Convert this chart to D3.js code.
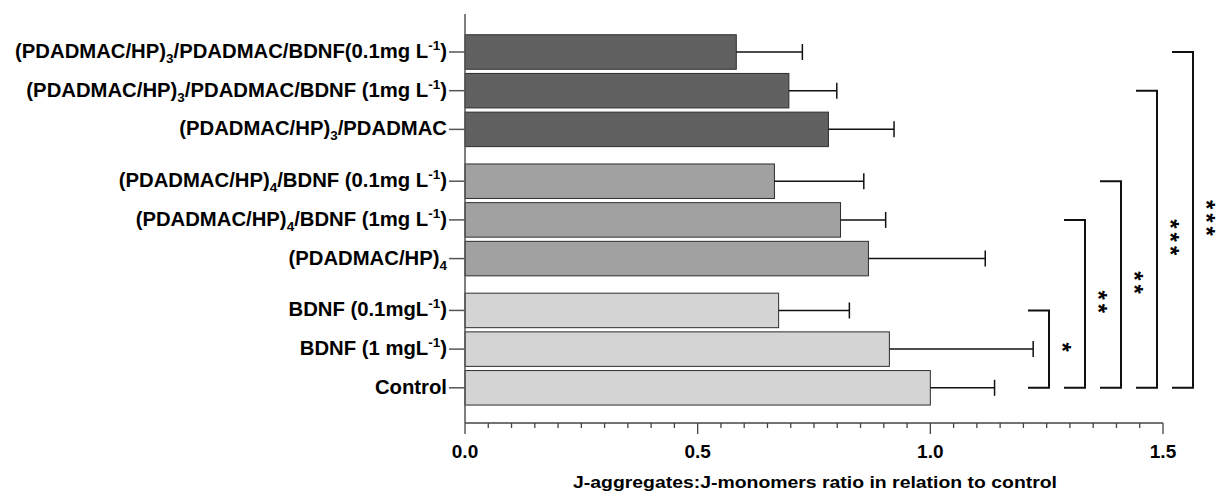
<!DOCTYPE html>
<html>
<head>
<meta charset="utf-8">
<script src="https://cdn.jsdelivr.net/npm/d3@7"></script>
<style>
  body { margin: 0; background: #fff; }
  svg { display: block; font-family: "Liberation Sans", Arial, sans-serif; }
</style>
</head>
<body>
<div id="container"></div>
<script>
// categories, top to bottom; _{} = subscript, ^{} = superscript
let categories = [
  "(PDADMAC/HP)_{3}/PDADMAC/BDNF(0.1mg L^{-1})",
  "(PDADMAC/HP)_{3}/PDADMAC/BDNF (1mg L^{-1})",
  "(PDADMAC/HP)_{3}/PDADMAC",
  "(PDADMAC/HP)_{4}/BDNF (0.1mg L^{-1})",
  "(PDADMAC/HP)_{4}/BDNF (1mg L^{-1})",
  "(PDADMAC/HP)_{4}",
  "BDNF (0.1mgL^{-1})",
  "BDNF (1 mgL^{-1})",
  "Control"
];
let groups = [0, 0, 0, 1, 1, 1, 2, 2, 2];
let means = [0.583, 0.696, 0.781, 0.665, 0.807, 0.867, 0.674, 0.912, 1.0];
let errUpper = [0.725, 0.799, 0.922, 0.857, 0.904, 1.118, 0.826, 1.221, 1.138];
let groupColors = ["#616161", "#a1a1a1", "#d4d4d4"];

let xTicks = [0, 0.5, 1.0, 1.5];
let xTitle = "J-aggregates:J-monomers ratio in relation to control";

// significance brackets: each category vs Control
let comparisons = [
  { from: 6, to: 8, stars: "*" },
  { from: 4, to: 8, stars: "**" },
  { from: 3, to: 8, stars: "**" },
  { from: 1, to: 8, stars: "***" },
  { from: 0, to: 8, stars: "***" }
];

let w = 1219;
let h = 492;
let x0 = 465;
let x1 = 1163;
let axisY = 423;

let viz = d3.select("#container")
  .append("svg")
    .attr("width", w)
    .attr("height", h);

let xScale = d3.scaleLinear().domain([0, 1.5]).range([x0, x1]);

// slot position: index plus an extra gap between groups
let groupGap = 0.34;
let slots = categories.map(function(d, i){ return i + groups[i] * groupGap; });
let yScale = d3.scaleLinear().domain([0, d3.max(slots)]).range([52, 387.8]);
let barH = 34.5;

// bars
viz.append("g").selectAll("rect").data(means).enter()
  .append("rect")
    .attr("x", xScale(0))
    .attr("y", function(d, i){ return yScale(slots[i]) - barH / 2; })
    .attr("width", function(d){ return xScale(d) - xScale(0); })
    .attr("height", barH)
    .attr("fill", function(d, i){ return groupColors[groups[i]]; })
    .attr("stroke", "#2e2e2e")
    .attr("stroke-width", 1);

// error bars (upper only)
let errG = viz.append("g").attr("stroke", "#111").attr("stroke-width", 1.5);
errUpper.forEach(function(e, i){
  let yc = yScale(slots[i]);
  errG.append("line")
    .attr("x1", xScale(means[i])).attr("x2", xScale(e))
    .attr("y1", yc).attr("y2", yc);
  errG.append("line")
    .attr("x1", xScale(e)).attr("x2", xScale(e))
    .attr("y1", yc - 8).attr("y2", yc + 8);
});

// x axis with minor ticks
let minor = d3.range(0, 1.5001, 0.05);
let xAxisG = viz.append("g").attr("stroke", "#444");
xAxisG.append("line")
  .attr("x1", x0).attr("x2", x1)
  .attr("y1", axisY).attr("y2", axisY)
  .attr("stroke-width", 1.5);
xAxisG.selectAll(".minor").data(minor).enter()
  .append("line")
    .attr("class", "minor")
    .attr("x1", function(d){ return xScale(d); })
    .attr("x2", function(d){ return xScale(d); })
    .attr("y1", axisY)
    .attr("y2", function(d){
      return xTicks.some(function(t){ return Math.abs(t - d) < 1e-6; }) ? axisY + 11 : axisY + 5;
    })
    .attr("stroke-width", 1.3);
viz.append("g").selectAll("text").data(xTicks).enter()
  .append("text")
    .attr("x", function(d){ return xScale(d); })
    .attr("y", 458)
    .attr("text-anchor", "middle")
    .attr("font-size", 19)
    .attr("font-weight", "bold")
    .text(function(d){ return d3.format(".1f")(d); });
viz.append("text")
  .attr("x", 573)
  .attr("y", 488)
  .attr("font-size", 16.5)
  .attr("font-weight", "bold")
  .attr("textLength", 484)
  .attr("lengthAdjust", "spacingAndGlyphs")
  .text(xTitle);

// y axis
let yAxisG = viz.append("g").attr("stroke", "#555").attr("stroke-width", 1.5);
yAxisG.append("line")
  .attr("x1", x0).attr("x2", x0)
  .attr("y1", 14).attr("y2", axisY);
yAxisG.selectAll(".tick").data(slots).enter()
  .append("line")
    .attr("x1", x0 - 16).attr("x2", x0)
    .attr("y1", function(d){ return yScale(d); })
    .attr("y2", function(d){ return yScale(d); });

// rich labels: sub/superscripts as shifted tspans
function addRichText(sel, str){
  let parts = str.split(/(_\{[^}]*\}|\^\{[^}]*\})/).filter(function(p){ return p.length; });
  let back = 0;
  parts.forEach(function(p){
    let shift = 0;
    let txt = p;
    let small = false;
    if (p[0] === "_") { shift = 5; txt = p.slice(2, -1); small = true; }
    else if (p[0] === "^") { shift = -8; txt = p.slice(2, -1); small = true; }
    let ts = sel.append("tspan").attr("dy", back + shift).text(txt);
    if (small) ts.attr("font-size", 13.5);
    back = -shift;
  });
}
let labelG = viz.append("g");
categories.forEach(function(c, i){
  let t = labelG.append("text")
    .attr("x", x0 - 18)
    .attr("y", yScale(slots[i]) + 6)
    .attr("text-anchor", "end")
    .attr("font-size", 20.3)
    .attr("font-weight", "bold");
  addRichText(t, c);
});

// significance brackets
let brG = viz.append("g");
comparisons.forEach(function(c, k){
  let xr = 1049 + k * 36;
  let ya = yScale(slots[c.from]);
  let yb = yScale(slots[c.to]);
  brG.append("path")
    .attr("d", "M" + (xr - 21) + "," + ya + "H" + xr + "V" + yb + "H" + (xr - 21))
    .attr("fill", "none")
    .attr("stroke", "#111")
    .attr("stroke-width", 2);
  let xc = xr + 20;
  let yc = (ya + yb) / 2;
  brG.append("text")
    .attr("transform", "translate(" + (xc - 15) + "," + yc + ") rotate(90)")
    .attr("text-anchor", "middle")
    .attr("font-size", 24)
    .attr("font-weight", "bold")
    .attr("letter-spacing", 4)
    .text(c.stars);
});
</script>
</body>
</html>
